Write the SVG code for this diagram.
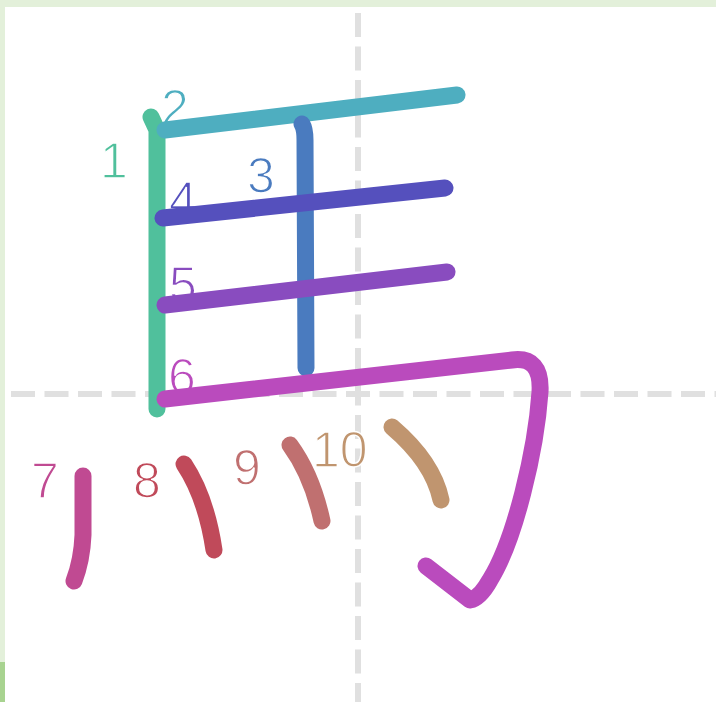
<svg xmlns="http://www.w3.org/2000/svg" width="716" height="702" viewBox="0 0 716 702">
  <style>
    .grid { stroke: #e0e0e0; stroke-width: 6; stroke-dasharray: 24 9.5; fill: none; }
    .stroke { fill: none; stroke-width: 17; stroke-linecap: round; stroke-linejoin: round; }
    .num { font-family: "Liberation Sans", Arial, sans-serif; font-size: 50px; stroke: #ffffff; stroke-width: 1.4px; }
  </style>
  <rect x="0" y="0" width="716" height="702" fill="#ffffff"/>
  <rect x="0" y="0" width="716" height="7" fill="#e3f0da"/>
  <rect x="0" y="0" width="5" height="662" fill="#e3f0da"/>
  <rect x="0" y="662" width="5" height="40" fill="#a8d390"/>
  <g id="grid">
    <line class="grid" x1="11" y1="394" x2="716" y2="394"/>
    <line class="grid" x1="358" y1="13" x2="358" y2="702"/>
  </g>
  <g id="connectors"></g>
  <g id="stroke1">
    <path class="stroke" stroke="#50c09c" d="M151,117 L157,130 L157,409"/>
    <text class="num" fill="#50c09c" x="100" y="178">1</text>
  </g>
  <g id="stroke2">
    <text class="num" fill="#4eaec0" x="161" y="125">2</text>
    <path class="stroke" stroke="#4eaec0" d="M165,130 L457,95"/>
  </g>
  <g id="stroke3">
    <path class="stroke" stroke="#4a7bbf" d="M302,124 Q305,129 305,140 L306,368"/>
    <text class="num" fill="#4a7bbf" x="247" y="193">3</text>
  </g>
  <g id="stroke4">
    <text class="num" fill="#5550bd" x="169" y="217">4</text>
    <path class="stroke" stroke="#5550bd" d="M163,218 L445,188"/>
  </g>
  <g id="stroke5">
    <text class="num" fill="#894cbf" x="169" y="302">5</text>
    <path class="stroke" stroke="#894cbf" d="M165,305 L447,272"/>
  </g>
  <g id="stroke6">
    <text class="num" fill="#ba4bbd" x="168" y="394">6</text>
    <path class="stroke" stroke="#ba4bbd" d="M165,399 L512,360 Q542,356 540,392 C536,450 515,540 490,580 Q480,598 470,600 L426,566"/>
  </g>
  <g id="stroke7">
    <text class="num" fill="#c04a92" x="31" y="498">7</text>
    <path class="stroke" stroke="#c04a92" d="M83,476 L83,535 Q82,560 74,581"/>
  </g>
  <g id="stroke8">
    <text class="num" fill="#c04a5a" x="133" y="498">8</text>
    <path class="stroke" stroke="#c04a5a" d="M184,464 Q206,497 214,550"/>
  </g>
  <g id="stroke9">
    <text class="num" fill="#c07070" x="233" y="485">9</text>
    <path class="stroke" stroke="#c07070" d="M290,445 Q312,475 322,521"/>
  </g>
  <g id="stroke10">
    <text class="num" fill="#c0956f" x="312" y="467">10</text>
    <path class="stroke" stroke="#c0956f" d="M392,427 Q433,462 441,500"/>
  </g>
</svg>
